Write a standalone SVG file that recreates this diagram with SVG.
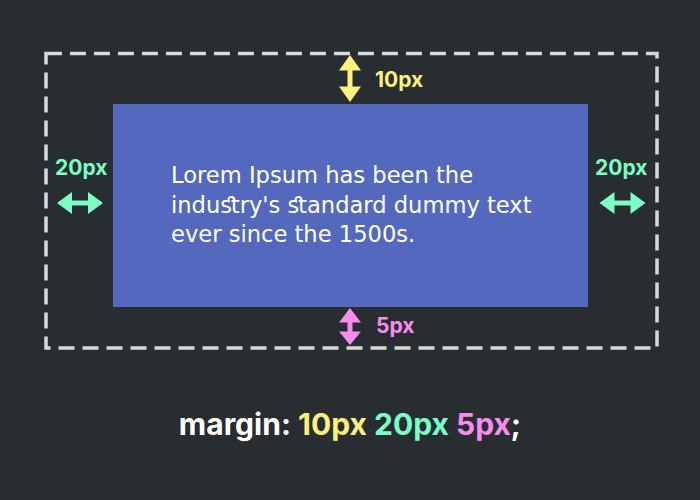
<svg xmlns="http://www.w3.org/2000/svg" width="700" height="500" viewBox="0 0 700 500">
<style>
.lbl{font-family:Inter,"Open Sans",sans-serif;font-weight:700;font-size:21px}
.body{font-family:"DejaVu Sans",Verdana,sans-serif;font-size:22.6px;fill:#ffffff;font-variant-ligatures:discretionary-ligatures}
.code{font-family:Inter,"Open Sans",sans-serif;font-weight:700;font-size:30px}
</style>
<defs>
<path id="varrow" d="M0,-23.5 L11,-8 L2.5,-8 L2.5,8 L11,8 L0,23.5 L-11,8 L-2.5,8 L-2.5,-8 L-11,-8 Z"/>
<path id="varrow-short" d="M0,-18.5 L11,-4 L2.5,-4 L2.5,5 L11,5 L0,18.5 L-11,5 L-2.5,5 L-2.5,-4 L-11,-4 Z"/>
<path id="harrow" d="M-23,0 L-8,-11 L-8,-2.5 L8,-2.5 L8,-11 L23,0 L8,11 L8,2.5 L-8,2.5 L-8,11 Z"/>
</defs>
<rect width="700" height="500" fill="#272d31"/>
<g id="margin-box">
<rect x="46" y="53.5" width="611" height="294.5" fill="none" stroke="#d9d9d9" stroke-width="3.5" stroke-dasharray="16 8"/>
</g>
<g id="content-box">
<rect x="113" y="104" width="475" height="203" fill="#5469bd"/>
<text class="body" x="171" y="183">Lorem Ipsum has been the</text>
<text class="body" x="171" y="213">industry's standard dummy text</text>
<text class="body" x="171" y="242">ever since the 1500s.</text>
</g>
<g id="connectors">
<use href="#varrow" x="350" y="78.5" fill="#fdf27c"/>
<use href="#varrow-short" x="350" y="326.5" fill="#f98cef"/>
<use href="#harrow" x="80" y="203" fill="#7dfcc6"/>
<use href="#harrow" x="622.5" y="203" fill="#7dfcc6"/>
</g>
<g id="labels">
<text class="lbl" x="375" y="87" fill="#fdf27c">10px</text>
<text class="lbl" x="376" y="333" fill="#f98cef">5px</text>
<text class="lbl" x="55" y="175" fill="#7dfcc6">20px</text>
<text class="lbl" x="595" y="175" fill="#7dfcc6">20px</text>
</g>
<g id="code">
<text class="code" x="350" y="435" text-anchor="middle"><tspan fill="#ffffff">margin: </tspan><tspan fill="#fdf27c">10px </tspan><tspan fill="#7dfcc6">20px </tspan><tspan fill="#f98cef">5px</tspan><tspan fill="#ffffff">;</tspan></text>
</g>
</svg>
